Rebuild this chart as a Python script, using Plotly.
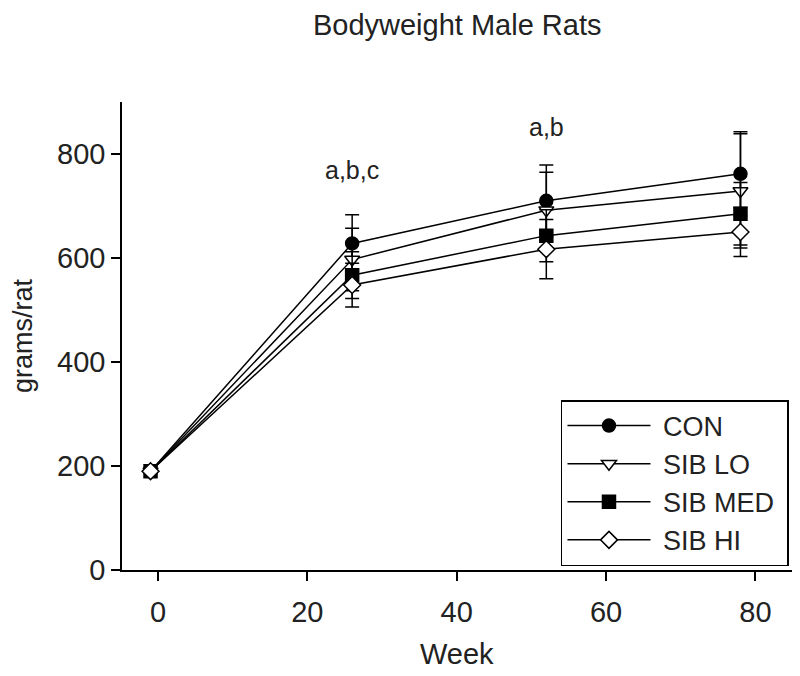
"""Bodyweight of male rats over time, recreated with Plotly."""

import plotly.graph_objects as go

# ---------------------------------------------------------------------------
# Data
# ---------------------------------------------------------------------------
weeks = [-1, 26, 52, 78]

con = [190, 628, 710, 762]
con_err = [0, 55, 69, 81]

sib_lo = [190, 597, 692, 729]
sib_lo_err = [0, 60, 73, 110]

sib_med = [190, 567, 643, 685]
sib_med_err = [0, 45, 50, 60]

sib_hi = [190, 548, 617, 650]
sib_hi_err = [0, 42, 57, 47]

sig_weeks = [26, 52, 78]
sig_y = [769, 852, 910]
sig_labels = ["a,b,c", "a,b", "a,b"]

FONT = "Liberation Sans, Arial, sans-serif"
INK = "#222222"

series = [
    ("CON", con, con_err, "circle", "black"),
    ("SIB LO", sib_lo, sib_lo_err, "triangle-down", "white"),
    ("SIB MED", sib_med, sib_med_err, "square", "black"),
    ("SIB HI", sib_hi, sib_hi_err, "diamond", "white"),
]

fig = go.Figure()
for name, vals, errs, symbol, fill in series:
    fig.add_trace(
        go.Scatter(
            x=weeks,
            y=vals,
            # padding spaces so the legend box is as wide as the original
            name="\u00a0" + name + "\u00a0",
            mode="lines+markers",
            line=dict(color="black", width=1.5),
            marker=dict(
                symbol=symbol,
                size=13,
                color=fill,
                line=dict(color="black", width=1.5),
            ),
            error_y=dict(
                type="data",
                array=errs,
                color="black",
                thickness=1.5,
                width=7,
            ),
            cliponaxis=False,
        )
    )

for wk, yy, txt in zip(sig_weeks, sig_y, sig_labels):
    fig.add_annotation(
        x=wk, y=yy, text=txt, showarrow=False,
        xref="x", yref="y",
        font=dict(family=FONT, size=25, color=INK),
    )

# x-axis title placed as an annotation so it sits as low as in the original
fig.add_annotation(
    x=0.5, y=-0.18, xref="paper", yref="paper",
    xanchor="center", yanchor="middle",
    text="Week", showarrow=False,
    font=dict(family=FONT, size=29, color=INK),
)

fig.update_layout(
    width=784,
    height=668,
    paper_bgcolor="white",
    plot_bgcolor="white",
    font=dict(family=FONT, color=INK),
    margin=dict(l=114, r=0, t=94, b=106),
    title=dict(
        text="Bodyweight Male Rats",
        x=0.573, xanchor="center",
        y=0.975, yanchor="middle",
        font=dict(family=FONT, size=29, color=INK),
    ),
    showlegend=True,
    legend=dict(
        x=0.9955, xanchor="right",
        y=0.0085, yanchor="bottom",
        bordercolor="black",
        borderwidth=1.5,
        bgcolor="white",
        itemwidth=83,
        font=dict(family=FONT, size=27, color=INK),
        tracegroupgap=0,
    ),
    xaxis=dict(
        range=[-4.82, 84.9],
        tickvals=[0, 20, 40, 60, 80],
        ticks="outside",
        ticklen=9,
        tickwidth=1.5,
        tickcolor="black",
        ticklabelstandoff=6,
        showline=True,
        linecolor="black",
        linewidth=1.5,
        showgrid=False,
        zeroline=False,
        automargin=False,
        tickfont=dict(family=FONT, size=29, color=INK),
    ),
    yaxis=dict(
        range=[0, 900],
        tickvals=[0, 200, 400, 600, 800],
        ticks="outside",
        ticklen=9,
        tickwidth=1.5,
        tickcolor="black",
        showline=True,
        linecolor="black",
        linewidth=1.5,
        showgrid=False,
        zeroline=False,
        automargin=False,
        tickfont=dict(family=FONT, size=29, color=INK),
        title=dict(text="grams/rat", font=dict(family=FONT, size=27, color=INK), standoff=18),
    ),
)

fig.write_html("out.html")
